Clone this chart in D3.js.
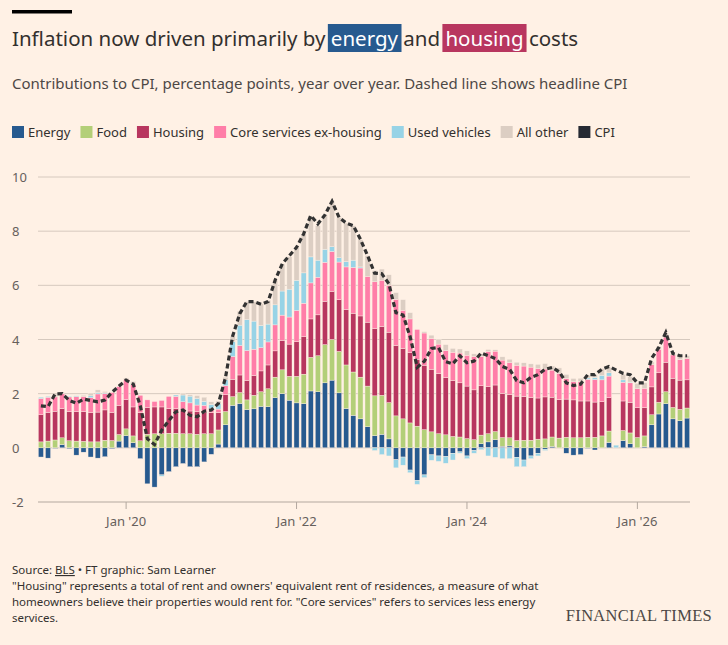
<!DOCTYPE html>
<html><head><meta charset="utf-8">
<script src="https://cdn.jsdelivr.net/npm/d3@7"></script>
<style>body{margin:0;background:#fff1e5;}svg{display:block;font-family:"Noto Sans",sans-serif;}</style>
</head><body><svg id="c" width="728" height="645"></svg>
<script>
// Months Jan 2019 .. Aug 2026
const startYear = 2019, nMonths = 92;
const energy = [-0.34,-0.38,-0.02,0.12,-0.03,-0.27,-0.16,-0.34,-0.38,-0.33,-0.03,0.25,
 0.45,0.19,-0.4,-1.33,-1.45,-1.0,-0.88,-0.7,-0.58,-0.7,-0.7,-0.52,
 -0.24,0.14,0.85,1.57,1.64,1.41,1.44,1.53,1.52,1.85,2.0,1.76,
 1.66,1.63,2.1,2.07,2.4,2.5,2.03,1.45,1.2,1.07,0.78,0.45,
 0.5,0.33,-0.44,-0.34,-0.82,-1.2,-1.0,-0.26,-0.3,-0.32,-0.2,-0.15,
 -0.3,-0.1,0.15,0.22,0.3,0.06,0.07,-0.35,-0.45,-0.3,-0.2,-0.05,
 0.05,0,-0.2,-0.27,-0.25,-0.02,-0.08,0,0.2,null,0.27,0.15,
 0,0.04,0.85,1.25,1.63,1.07,1.0,1.1];
const food = [0.22,0.25,0.29,0.25,0.26,0.25,0.24,0.22,0.22,0.28,0.27,0.24,
 0.25,0.25,0.26,0.5,0.52,0.52,0.54,0.54,0.52,0.52,0.5,0.52,
 0.52,0.52,0.49,0.32,0.4,0.36,0.5,0.54,0.66,0.76,0.88,0.88,
 0.98,1.09,1.24,1.33,1.41,1.5,1.53,1.61,1.6,1.54,1.5,1.47,
 1.44,1.34,1.18,1.07,0.92,0.8,0.67,0.59,0.52,0.48,0.42,0.4,
 0.34,0.3,0.32,0.3,0.3,0.32,0.3,0.27,0.28,0.28,0.32,0.33,
 0.35,0.36,0.39,0.37,0.37,0.39,0.39,0.44,0.42,null,0.37,0.4,
 0.38,0.4,0.37,0.43,0.44,0.42,0.42,0.37];
const housing = [1.0,1.06,1.06,1.08,1.08,1.09,1.1,1.08,1.1,1.12,1.04,1.08,
 1.08,1.07,1.04,0.99,0.99,0.99,0.91,0.91,0.88,0.84,0.83,0.8,
 0.78,0.64,0.62,0.64,0.65,0.72,0.73,0.77,0.88,0.97,1.09,1.19,
 1.28,1.38,1.42,1.51,1.6,1.78,1.91,2.05,2.17,2.26,2.36,2.48,
 2.54,2.6,2.6,2.6,2.59,2.47,2.38,2.31,2.22,2.11,2.07,2.0,
 1.94,1.84,1.82,1.74,1.72,1.63,1.6,1.64,1.61,1.58,1.52,1.55,
 1.47,1.42,1.41,1.4,1.36,1.34,1.3,1.26,1.23,null,1.09,1.13,
 1.1,1.04,1.03,1.09,1.09,1.08,1.08,1.04];
const coreServices = [0.6,0.56,0.53,0.55,0.54,0.55,0.55,0.55,0.67,0.6,0.73,0.69,
 0.75,0.84,0.64,0.28,0.2,0.24,0.45,0.45,0.3,0.3,0.25,0.25,
 0.15,0.13,0.33,0.84,1.09,1.1,0.97,0.86,0.85,0.96,0.93,1.0,
 1.15,1.24,1.33,1.39,1.44,1.47,1.39,1.57,1.69,1.77,1.69,1.73,
 1.71,1.73,1.7,1.41,1.25,1.1,1.19,1.14,1.09,1.0,1.04,1.1,
 1.14,1.23,1.08,1.3,1.25,1.23,1.18,1.14,1.13,1.12,1.09,1.03,
 1.0,0.97,0.76,0.67,0.72,0.8,0.83,0.81,0.8,null,0.69,0.72,
 0.7,0.72,0.82,0.87,0.93,0.86,0.76,0.79];
const usedVehicles = [0.05,0.03,0,0,0.03,0.03,0,0.07,0.05,0.03,0,0,
 0,0,0,0,0,-0.05,0,0.05,0.25,0.25,0.25,0.15,
 0.15,0.2,0.22,0.55,0.75,1.15,1.04,0.82,0.66,0.74,0.89,1.03,
 1.12,1.12,0.96,0.63,0.48,0.18,0.16,0.2,0.27,0.04,0,-0.1,
 -0.25,-0.3,-0.3,-0.3,-0.1,-0.15,-0.1,-0.2,-0.2,-0.25,-0.25,-0.05,
 -0.1,-0.1,-0.07,-0.3,-0.35,-0.4,-0.4,-0.35,-0.25,-0.1,-0.1,-0.05,
 0,0,0,0,0,0.05,0.08,0.17,0.12,0.1,0.09,0.03,
 0,0,0,0,0,0,0,0];
const allOther = [0,0,0.1,0.03,0,0,0.05,0.1,0.1,0.05,0,0,
 0.05,0.1,0,0,0,0,0,0,0.05,0.05,0.1,0.15,
 0.1,0.1,0.1,0.2,0.52,0.66,0.71,0.8,0.88,0.9,1.0,1.2,
 1.2,1.45,1.45,1.27,1.27,1.67,1.48,1.42,1.27,1.0,0.77,0.42,
 0.41,0.39,0.25,0.39,0.23,0,0.05,0.12,0.18,0.22,0.14,0.15,
 0.16,0.1,0.1,0.07,0.05,0.12,0.12,0.11,0.12,0.12,0.15,0.2,
 0.15,0.2,0.15,0.12,0.12,0.1,0.1,0.25,0.2,null,0.2,0.2,
 0.2,0.2,0.1,0.1,0.15,0.05,0.1,0.1];
const cpi = [1.55,1.52,1.99,2.0,1.75,1.65,1.8,1.75,1.7,1.76,2.05,2.28,
 2.5,2.35,1.55,0.33,0.12,0.65,1.0,1.33,1.4,1.2,1.15,1.35,
 1.4,1.64,2.6,4.12,4.95,5.4,5.4,5.3,5.4,6.2,6.8,7.1,
 7.4,7.9,8.58,8.27,8.6,9.1,8.5,8.3,8.2,7.7,7.1,6.45,
 6.43,6.06,4.99,4.9,4.1,2.97,3.2,3.67,3.7,3.18,3.1,3.4,
 3.14,3.2,3.5,3.4,3.3,3.0,2.9,2.48,2.4,2.6,2.7,2.9,
 2.97,2.8,2.4,2.3,2.35,2.7,2.7,2.9,3.0,null,2.75,2.7,
 2.4,2.4,3.3,3.7,4.26,3.48,3.4,3.4];
const seriesNames = ["Energy","Food","Housing","Core services ex-housing","Used vehicles","All other"];
const seriesColors = ["#275a8f","#b3cf78","#b8365f","#ff7ea8","#97d3e6","#dccec3"];
const yTicks = [-2,0,2,4,6,8,10];
const xTickMonths = [12,36,60,84];
const xTickLabels = ["Jan '20","Jan '22","Jan '24","Jan '26"];

const svg = d3.select("#c");
const W=728, H=645, L=38, R=690, T=177, B=502;
const arrays=[energy,food,housing,coreServices,usedVehicles,allOther];
const rows=d3.range(nMonths).map(i=>{const r={i};seriesNames.forEach((n,k)=>r[n]=arrays[k][i]||0);return r;});
const x=d3.scaleBand().domain(d3.range(nMonths)).range([L,R]).paddingInner(0.28).paddingOuter(0.05);
const y=d3.scaleLinear().domain([-2,10]).range([B,T]);

// header
svg.append("rect").attr("x",12).attr("y",10).attr("width",60).attr("height",3.5).attr("fill","#000");
const title=svg.append("text").attr("x",12).attr("y",46).attr("font-size",20.5).attr("fill","#33302e");
const parts=[["Inflation now driven primarily by ",null],["energy",seriesColors[0]],[" and ",null],["housing",seriesColors[2]],[" costs",null]];
parts.forEach(p=>{title.append("tspan").text(p[0]).attr("fill",p[1]?"#fff":"#33302e").attr("data-bg",p[1]||"");});
title.selectAll("tspan").each(function(){
  const bg=this.getAttribute("data-bg"); if(!bg) return;
  const b=this.getBBox();
  svg.insert("rect","text").attr("x",b.x-3).attr("y",24).attr("width",b.width+6).attr("height",28).attr("fill",bg);
});
svg.append("text").attr("x",12).attr("y",89).attr("font-size",15).attr("fill","#4d4845")
 .text("Contributions to CPI, percentage points, year over year. Dashed line shows headline CPI");

// legend
const legItems=seriesNames.map((n,k)=>({n,c:seriesColors[k]})).concat([{n:"CPI",c:"#262a33"}]);
let lx=12;
legItems.forEach(d=>{
  svg.append("rect").attr("x",lx).attr("y",126).attr("width",12).attr("height",12).attr("fill",d.c);
  const t=svg.append("text").attr("x",lx+16).attr("y",137).attr("font-size",13).attr("fill","#33302e").text(d.n);
  lx+=16+t.node().getComputedTextLength()+10;
});

// grid
svg.append("g").selectAll("line").data(yTicks).join("line")
 .attr("x1",L).attr("x2",R).attr("y1",d=>y(d)).attr("y2",d=>y(d))
 .attr("stroke",d=>d===-2?"#b3a89f":"#d6c9be").attr("stroke-width",1);
svg.append("g").selectAll("text").data(yTicks).join("text")
 .attr("x",12).attr("y",d=>y(d)+5).attr("font-size",13).attr("fill","#66605c").text(d=>d);

// bars
const stack=d3.stack().keys(seriesNames).offset(d3.stackOffsetDiverging)(rows);
svg.append("g").selectAll("g").data(stack).join("g").attr("fill",(d,k)=>seriesColors[k])
 .selectAll("rect").data(d=>d.filter(s=>s[1]!==s[0])).join("rect")
 .attr("x",s=>x(s.data.i)).attr("width",x.bandwidth())
 .attr("y",s=>y(Math.max(s[0],s[1]))).attr("height",s=>Math.abs(y(s[0])-y(s[1])))
 .attr("stroke","#fff1e5").attr("stroke-width",0.4);

// x axis
const xa=d3.axisBottom(x).tickValues(xTickMonths).tickFormat((d,i)=>xTickLabels[i]).tickSize(7).tickSizeOuter(0);
const gx=svg.append("g").attr("transform",`translate(0,${B})`).call(xa);
gx.select(".domain").remove();
gx.selectAll("line").attr("stroke","#b3a89f");
gx.selectAll("text").attr("font-size",13).attr("fill","#66605c").attr("font-family","Noto Sans").attr("dy","1.1em");

// cpi line
const pts=cpi.map((v,i)=>({i,v})).filter(d=>d.v!==null);
svg.append("path").datum(pts).attr("fill","none").attr("stroke","#333")
 .attr("stroke-width",3.2).attr("stroke-dasharray","5,3")
 .attr("d",d3.line().x(d=>x(d.i)+x.bandwidth()/2).y(d=>y(d.v)));

// footer
const foot=[["Source: ",true],["\"Housing\" represents a total of rent and owners' equivalent rent of residences, a measure of what"],["homeowners believe their properties would rent for. \"Core services\" refers to services less energy"],["services."]];
const f0=svg.append("text").attr("x",12).attr("y",574).attr("font-size",11.5).attr("fill","#33302e");
f0.append("tspan").text("Source: ");
f0.append("tspan").text("BLS").attr("text-decoration","underline");
f0.append("tspan").text(" • FT graphic: Sam Learner");
foot.slice(1).forEach((f,k)=>svg.append("text").attr("x",12).attr("y",590+k*16).attr("font-size",11.5).attr("fill","#33302e").text(f[0]));
svg.append("text").attr("x",712).attr("y",621).attr("text-anchor","end").attr("font-family","Liberation Serif, serif")
 .attr("font-size",16.5).attr("fill","#4d4845").attr("letter-spacing","0.3").text("FINANCIAL TIMES");
</script></body></html>
